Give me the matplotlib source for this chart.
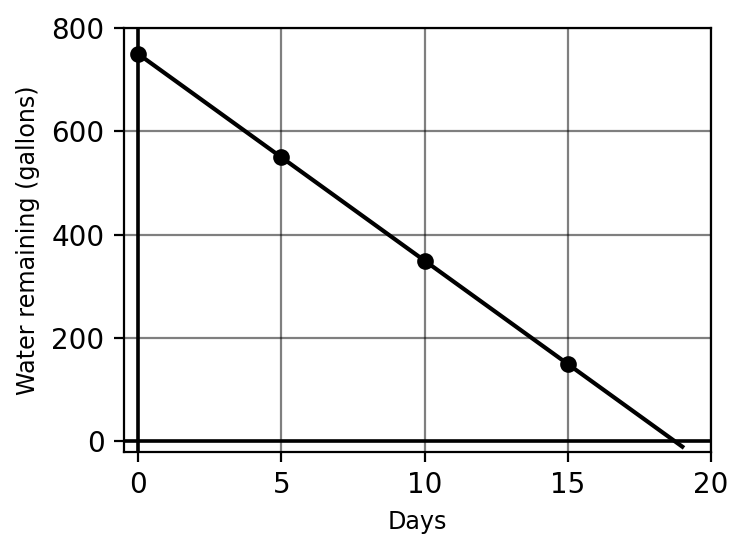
import numpy as np
import matplotlib
matplotlib.use('Agg')
import matplotlib.pyplot as plt

# water tank draining 40 gallons a day
days = [0, 5, 10, 15]
water = [750, 550, 350, 150]
line_days = [0, 19]
line_water = [750, -10]

fig, ax = plt.subplots(figsize=(3.73, 2.755), dpi=200)
fig.subplots_adjust(left=0.166, right=0.953, top=0.949, bottom=0.18)

ax.grid(True, color='black', alpha=0.5, linewidth=0.8)
ax.set_axisbelow(True)
ax.axhline(0, color='black', linewidth=1.3)
ax.axvline(0, color='black', linewidth=1.3)
ax.plot(line_days, line_water, color='black', linewidth=1.5)
ax.plot(days, water, 'o', color='black', markersize=5)

ax.set_xlim(-0.5, 20)
ax.set_ylim(-20, 800)
ax.set_xticks([0, 5, 10, 15, 20])
ax.set_yticks([0, 200, 400, 600, 800])
ax.tick_params(labelsize=10)
ax.set_xlabel('Days', fontsize=8.6)
ax.set_ylabel('Water remaining (gallons)', fontsize=8.6)

plt.savefig('out.png', dpi=200)
